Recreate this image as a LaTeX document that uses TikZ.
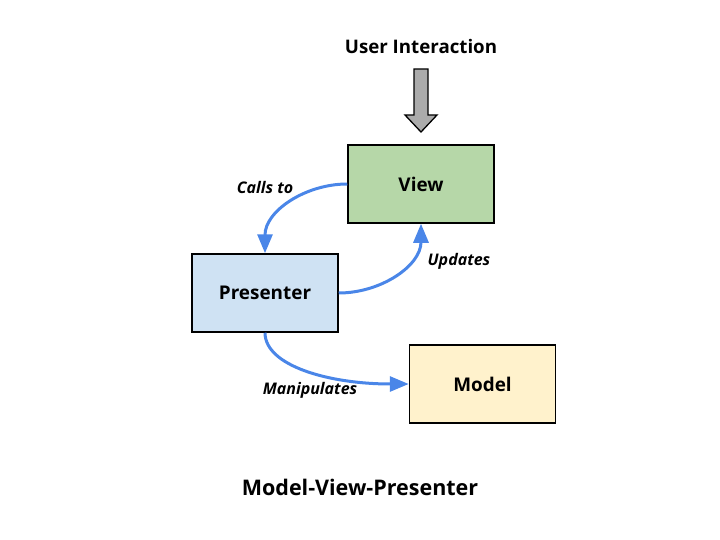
\documentclass[tikz,border=0pt]{standalone}
\usepackage{fontspec}
\setmainfont{Open Sans}
\usetikzlibrary{arrows.meta,calc}
\definecolor{viewc}{HTML}{B6D7A8}
\definecolor{presc}{HTML}{CFE2F3}
\definecolor{modc}{HTML}{FFF2CC}
\definecolor{arrc}{HTML}{4A86E8}
\definecolor{grayc}{HTML}{ABABAB}
\tikzset{
  box/.style={draw=black, line width=1.5pt, minimum width=146pt, minimum height=78pt, inner sep=0pt, font=\fontsize{18.9}{22}\selectfont\bfseries},
  conn/.style={draw=arrc, line width=3pt, -{Triangle[length=19pt,width=15pt]}},
  lbl/.style={font=\fontsize{16}{18}\selectfont\bfseries\itshape},
}
\begin{document}
\begin{tikzpicture}[x=1pt,y=-1pt]
\useasboundingbox (0,0) rectangle (720,540);
\node[font=\fontsize{18.7}{22}\selectfont\bfseries] (ui) at (421,46) {User Interaction};
\draw[fill=grayc, line width=1.3pt, line join=miter] (414,69) -- (428,69) -- (428,115) -- (437,115) -- (421,132) -- (405,115) -- (414,115) -- cycle;
\node[box, fill=viewc] (view) at (421,184) {View};
\node[box, fill=presc] (pres) at (265,293) {Presenter};
\node[box, fill=modc] (model) at (482.5,384) {Model};
\node[font=\fontsize{21.5}{25}\selectfont\bfseries] (title) at (360,487) {Model-View-Presenter};
\draw[conn] (view.west) to[out=180,in=90] (pres.north);
\draw[conn] (pres.east) to[out=0,in=-90] (view.south);
\draw[conn] (pres.south) .. controls ($(pres.south)+(0,33)$) and ($(model.west)+(-80,0)$) .. (model.west);
\node[lbl] (l1) at (265,188) {Calls to};
\node[lbl] (l2) at (459,261) {Updates};
\node[lbl] (l3) at (310,390) {Manipulates};
\end{tikzpicture}
\end{document}
